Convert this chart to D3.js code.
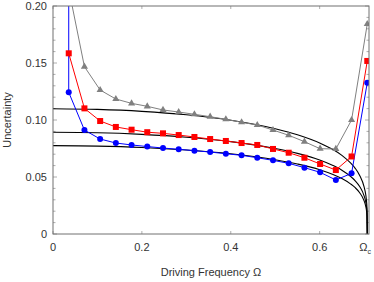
<!DOCTYPE html>
<html><head><meta charset="utf-8">
<script src="https://cdn.jsdelivr.net/npm/d3@7"></script>
<style>body{margin:0;background:#fff}svg{display:block}text{font-family:"Liberation Sans",Arial,sans-serif}</style>
</head><body><svg id="c" width="374" height="282"></svg>
<script>
const omegaX = [0.0354,0.0707,0.1061,0.1414,0.1768,0.2121,0.2475,0.2828,0.3182,0.3536,0.3889,0.4243,0.4596,0.4950,0.5303,0.5657,0.6010,0.6364,0.6718,0.7071];
const graySeries = [0.215,0.1468,0.1263,0.1184,0.1146,0.1120,0.1088,0.1070,0.1050,0.1029,0.1006,0.0980,0.0956,0.0912,0.0866,0.0810,0.0748,0.0746,0.1000,0.1842];
const redSeries  = [0.1585,0.1102,0.0991,0.0939,0.0915,0.0893,0.0883,0.0868,0.0851,0.0833,0.0816,0.0798,0.0781,0.0746,0.0713,0.0669,0.0614,0.0561,0.0680,0.1518];
const blueSeries = [0.1243,0.0912,0.0833,0.0798,0.0781,0.0767,0.0754,0.0743,0.0731,0.0719,0.0704,0.0690,0.0669,0.0646,0.0620,0.0582,0.0541,0.0474,0.0532,0.1327];
const blueLead = [0.0355, 0.40];
const theoryX   = [0,0.1,0.2,0.3,0.4,0.5,0.55,0.6,0.63,0.65,0.67,0.68,0.69,0.70,0.703,0.705,0.7065,0.7071];
const theoryTop = [0.1099,0.1093,0.1076,0.1046,0.0998,0.0924,0.0871,0.0799,0.0741,0.0690,0.0621,0.0576,0.0514,0.0413,0.0361,0.0305,0.0224,0];
const theoryMid = [0.0892,0.0888,0.0874,0.0849,0.0810,0.0750,0.0707,0.0649,0.0601,0.0560,0.0504,0.0467,0.0417,0.0335,0.0293,0.0248,0.0182,0];
const theoryLow = [0.0775,0.0771,0.0759,0.0737,0.0704,0.0652,0.0614,0.0564,0.0522,0.0486,0.0438,0.0406,0.0362,0.0291,0.0254,0.0215,0.0158,0];
const xTicks = [0,0.2,0.4,0.6];
const xTickLabels = ["0","0.2","0.4","0.6"];
const yTicks = [0,0.05,0.10,0.15,0.20];
const yTickLabels = ["0","0.05","0.10","0.15","0.20"];
const omegaC = 0.7071;

const svg = d3.select("#c");
const L=53,R=369,T=6,B=234;
const x = d3.scaleLinear().domain([0,0.711]).range([L,R]);
const y = d3.scaleLinear().domain([0,0.2]).range([B,T]);

svg.append("defs").append("clipPath").attr("id","clip")
  .append("rect").attr("x",L).attr("y",T).attr("width",R-L).attr("height",B-T);

const minorY = d3.range(0,0.2001,0.01);
const g = svg.append("g");
minorY.forEach(v=>{
  const isMajor = Math.abs(v*20-Math.round(v*20))<1e-6;
  const len = isMajor?4:2.5;
  g.append("line").attr("x1",L).attr("x2",L+len).attr("y1",y(v)).attr("y2",y(v)).attr("stroke","#999").attr("stroke-width",0.8);
  g.append("line").attr("x1",R).attr("x2",R-len).attr("y1",y(v)).attr("y2",y(v)).attr("stroke","#999").attr("stroke-width",0.8);
});
xTicks.forEach(v=>{
  g.append("line").attr("x1",x(v)).attr("x2",x(v)).attr("y1",B).attr("y2",B-3).attr("stroke","#999").attr("stroke-width",0.8);
  g.append("line").attr("x1",x(v)).attr("x2",x(v)).attr("y1",T).attr("y2",T+3).attr("stroke","#999").attr("stroke-width",0.8);
});

const plot = svg.append("g").attr("clip-path","url(#clip)");
const tline = d3.line().x(d=>x(d[0])).y(d=>y(d[1])).curve(d3.curveMonotoneX);
[theoryTop,theoryMid,theoryLow].forEach(arr=>{
  plot.append("path").datum(theoryX.map((t,i)=>[t,arr[i]]))
    .attr("d",tline).attr("fill","none").attr("stroke","#000").attr("stroke-width",1.1);
});

const line = d3.line().x(d=>x(d[0])).y(d=>y(d[1]));
function series(vals,color,lead){
  let pts = omegaX.map((t,i)=>[t,vals[i]]);
  if(lead) pts = [lead].concat(pts);
  plot.append("path").datum(pts).attr("d",line).attr("fill","none").attr("stroke",color).attr("stroke-width",1);
  return omegaX.map((t,i)=>[t,vals[i]]);
}
const gp = series(graySeries,"#808080");
const rp = series(redSeries,"#ff0000");
const bp = series(blueSeries,"#0000ff",blueLead);
plot.selectAll(".tri").data(gp).enter().append("path")
  .attr("d",d3.symbol().type(d3.symbolTriangle).size(22))
  .attr("transform",d=>`translate(${x(d[0])},${y(d[1])})`).attr("fill","#808080");
plot.selectAll(".sq").data(rp).enter().append("rect")
  .attr("x",d=>x(d[0])-3).attr("y",d=>y(d[1])-3).attr("width",6).attr("height",6).attr("fill","#ff0000");
plot.selectAll(".ci").data(bp).enter().append("circle")
  .attr("cx",d=>x(d[0])).attr("cy",d=>y(d[1])).attr("r",3).attr("fill","#0000ff");

svg.append("rect").attr("x",L).attr("y",T).attr("width",R-L).attr("height",B-T)
  .attr("fill","none").attr("stroke","#707070").attr("stroke-width",1);

yTicks.forEach((v,i)=>{
  svg.append("text").attr("x",47).attr("y",y(v)+4).attr("text-anchor","end")
    .attr("font-size",11).attr("fill","#333").text(yTickLabels[i]);
});
xTicks.forEach((v,i)=>{
  svg.append("text").attr("x",x(v)).attr("y",251).attr("text-anchor","middle")
    .attr("font-size",11).attr("fill","#333").text(xTickLabels[i]);
});
const oc = svg.append("text").attr("x",x(omegaC)-8).attr("y",251).attr("font-size",11).attr("fill","#333");
oc.append("tspan").text("Ω");
oc.append("tspan").attr("font-size",7).attr("dy",3).text("c");

svg.append("text").attr("x",211).attr("y",276).attr("text-anchor","middle")
  .attr("font-size",11).attr("fill","#333").text("Driving Frequency Ω");
svg.append("text").attr("transform","translate(11,120) rotate(-90)").attr("text-anchor","middle")
  .attr("font-size",11).attr("fill","#333").text("Uncertainty");
</script></body></html>
